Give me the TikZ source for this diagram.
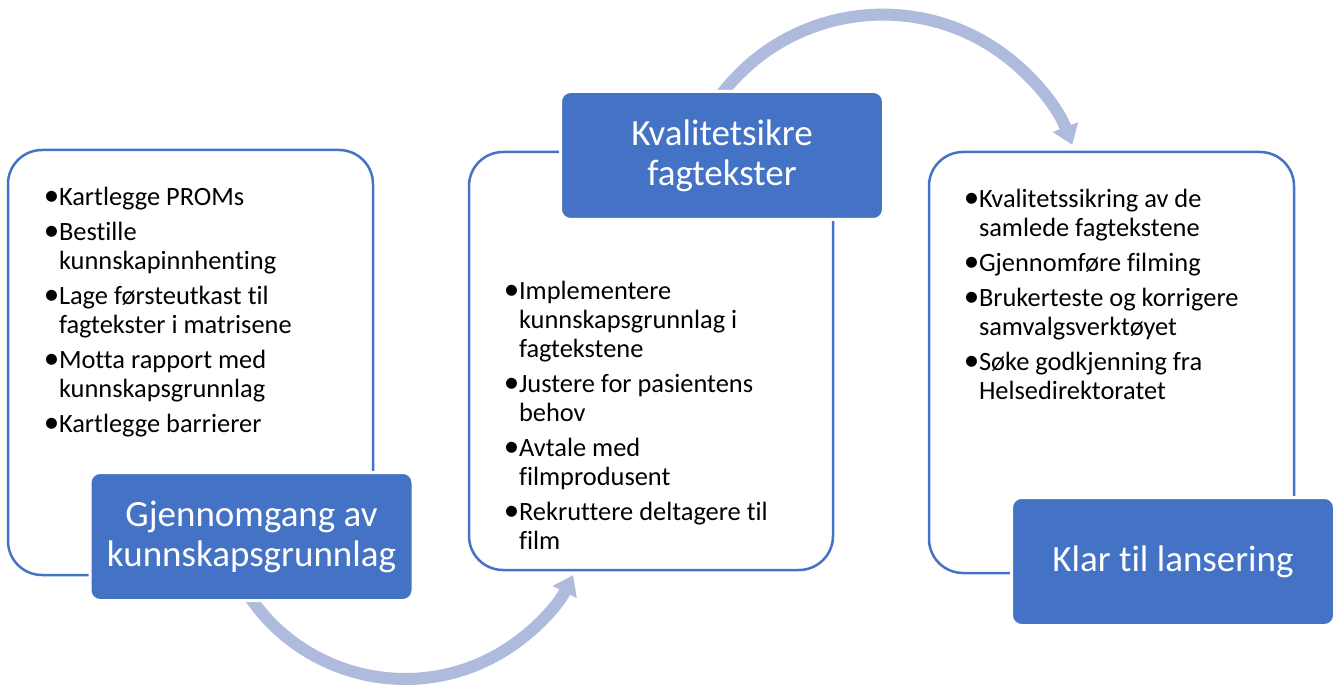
\documentclass[tikz,border=0pt]{standalone}
\usepackage{fontspec}
\setmainfont{Carlito}[Ligatures=NoCommon]
\usetikzlibrary{arrows.meta}
\definecolor{accentblue}{HTML}{4472C4}
\definecolor{arrowblue}{HTML}{AFBBDD}
\newcommand\bitem[1]{\par\hangindent=12pt\hangafter=1\noindent\makebox[12pt][l]{\makebox[9pt][c]{\fontsize{31pt}{29pt}\selectfont\textbullet}}#1\par}
\newcommand\blist[1]{\parbox[t]{340pt}{\fontsize{26.4pt}{29pt}\selectfont\parindent=0pt\parskip=5.8pt #1}}
\begin{document}
\begin{tikzpicture}[x=1pt,y=1pt,
  outlinebox/.style={draw=accentblue, line width=2.5pt, rounded corners=34pt, inner sep=0pt, outer sep=0pt},
  titlebox/.style={fill=accentblue, draw=white, line width=3pt, rounded corners=10pt, text=white,
    font=\fontsize{37pt}{40pt}\selectfont, align=center, minimum width=323pt, minimum height=128pt,
    inner sep=0pt, outer sep=0pt},
  listnode/.style={anchor=base west, inner sep=0pt, outer sep=0pt},
  flow/.style={draw=arrowblue, line width=12pt, -{Triangle[width=26pt,length=19pt]}}]
\useasboundingbox (0,0) rectangle (1340,686);
\fill[white] (0,0) rectangle (1340,686);

% outline boxes
\node[outlinebox, minimum width=365pt, minimum height=425pt] (o1) at (190.5,323.5) {};
\node[outlinebox, minimum width=364pt, minimum height=418pt] (o2) at (651,325) {};
\node[outlinebox, minimum width=365pt, minimum height=421pt] (o3) at (1111.5,323.5) {};

% bullet lists
\node[listnode] (l1) at (47,480) {\blist{%
\bitem{Kartlegge PROMs}%
\bitem{Bestille\\kunnskapinnhenting}%
\bitem{Lage førsteutkast til\\fagtekster i matrisene}%
\bitem{Motta rapport med\\kunnskapsgrunnlag}%
\bitem{Kartlegge barrierer}}};

\node[listnode] (l2) at (507,386) {\blist{%
\bitem{Implementere\\kunnskapsgrunnlag i\\fagtekstene}%
\bitem{Justere for pasientens\\behov}%
\bitem{Avtale med\\filmprodusent}%
\bitem{Rekruttere deltagere til\\film}}};

\node[listnode] (l3) at (967,478) {\blist{%
\bitem{Kvalitetssikring av de\\samlede fagtekstene}%
\bitem{Gjennomføre filming}%
\bitem{Brukerteste og korrigere\\samvalgsverktøyet}%
\bitem{Søke godkjenning fra\\Helsedirektoratet}}};

% curved arrows
\coordinate (a1s) at (245.6,95.4);
\draw[flow] (a1s) arc[start angle=212, end angle=333.4, radius=188pt];
\coordinate (a2s) at (718.5,587.7);
\draw[flow] (a2s) arc[start angle=144, end angle=21, radius=203pt];

% title boxes
\node[titlebox] (t1) at (251.5,149.5) {Gjennomgang av\\kunnskapsgrunnlag};
\node[titlebox] (t2) at (722,530.5) {Kvalitetsikre\\fagtekster};
\node[titlebox] (t3) at (1173,124.5) {Klar til lansering};
\end{tikzpicture}
\end{document}
